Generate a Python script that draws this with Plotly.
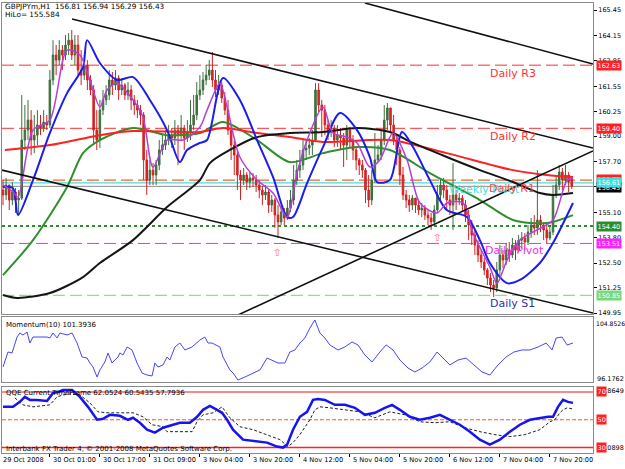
import plotly.graph_objects as go

# ---------------- data ----------------
bar_idx = list(range(183))

opens = [156.24,155.99,156.50,155.73,156.14,155.73,155.83,158.80,159.31,159.82,
         158.80,159.05,159.57,159.41,159.72,159.57,161.87,163.15,162.89,163.40,
         163.15,163.66,163.91,163.15,163.66,162.38,162.12,162.64,161.87,161.36,
         159.31,158.80,160.33,160.85,161.10,161.87,161.61,161.97,161.36,161.61,
         161.10,161.36,160.85,160.59,160.33,160.08,157.78,156.75,157.26,157.01,
         157.52,158.29,158.54,158.80,159.05,158.90,159.31,159.05,159.41,158.90,
         159.21,159.57,160.08,161.10,161.36,161.87,162.12,162.38,161.87,161.36,
         161.61,160.95,160.33,159.31,158.54,158.03,157.01,156.75,157.01,156.65,
         156.86,156.75,156.50,156.24,155.99,156.14,155.47,155.73,154.96,154.61,
         155.12,154.81,155.32,155.73,156.75,157.26,157.52,158.29,158.39,158.54,
         158.80,161.36,160.59,160.33,159.57,159.21,159.41,158.80,159.05,158.90,
         158.54,159.31,158.80,158.29,157.78,157.52,157.26,156.24,155.73,156.75,
         157.78,158.03,158.80,159.82,160.44,159.57,158.80,158.29,157.01,155.99,
         155.73,155.47,155.83,155.47,155.22,155.32,154.96,154.81,154.61,155.22,
         155.99,156.50,156.24,155.73,155.47,155.99,155.73,155.83,155.47,154.96,
         154.45,153.94,153.43,152.92,152.56,152.15,151.74,151.38,151.23,152.15,
         152.92,152.66,153.17,152.92,153.43,153.17,153.68,153.79,153.58,154.09,
         154.45,154.30,154.71,154.45,154.20,153.79,154.09,155.99,156.50,157.16,
         156.75,157.01,156.81]
highs = [156.75,156.86,156.50,156.65,156.34,156.24,161.10,160.59,160.85,160.33,
         160.08,160.33,160.08,160.33,160.08,162.38,163.91,163.66,163.91,163.66,
         164.17,164.27,164.43,164.17,164.17,163.40,163.15,162.89,162.12,161.61,
         160.33,160.85,161.36,161.61,162.38,162.28,162.38,162.12,161.97,161.71,
         161.77,161.61,161.10,160.85,160.59,160.23,158.29,157.78,157.62,157.78,
         158.80,159.05,159.31,159.57,159.41,159.82,159.57,160.08,159.57,159.82,
         160.85,161.10,161.77,162.12,162.28,162.64,162.89,163.30,162.38,162.12,
         161.77,161.25,160.85,159.57,158.80,158.29,157.26,157.37,157.16,157.16,
         157.11,157.01,156.75,156.45,156.50,156.24,155.99,155.83,155.47,155.47,
         155.32,155.73,156.24,157.52,157.78,158.29,158.80,158.80,158.90,159.31,
         161.71,161.71,160.85,160.59,159.82,159.82,159.57,159.57,159.41,159.16,
         159.57,159.46,159.05,158.39,157.88,157.78,157.37,157.01,157.26,159.16,
         158.54,159.31,160.59,160.69,160.44,160.08,159.05,158.44,157.42,156.24,
         155.99,155.99,155.83,155.73,155.58,155.47,155.22,155.07,155.47,156.50,
         156.86,156.86,156.50,155.99,157.62,156.24,156.09,155.99,155.73,155.22,
         154.71,154.20,153.68,153.17,152.76,152.25,152.00,151.64,152.56,153.43,
         153.17,153.53,153.58,153.79,153.68,153.94,154.09,154.04,154.45,154.81,
         154.96,157.26,154.96,154.61,154.45,154.45,156.50,157.01,157.52,157.37,
         157.52,157.16,156.94]
lows = [155.47,155.73,155.22,155.47,155.07,154.96,155.73,158.29,158.80,158.03,
        158.13,158.54,159.05,159.21,159.31,159.41,161.61,162.12,162.64,162.38,
        162.89,163.15,162.89,162.64,162.12,161.61,161.87,161.36,161.10,158.54,
        158.29,158.39,160.08,160.59,160.85,161.10,161.36,160.85,161.10,160.85,
        160.85,160.33,160.08,159.92,159.57,156.75,155.99,156.50,156.50,156.50,
        157.26,158.03,158.29,158.54,158.39,158.54,157.52,158.80,158.29,158.70,
        158.80,159.31,159.82,160.85,161.10,161.61,161.87,161.51,161.00,161.10,
        160.69,160.08,159.05,157.78,157.01,156.24,155.73,156.50,156.24,156.34,
        156.40,156.14,155.83,155.47,155.73,155.07,155.12,154.30,153.79,154.45,
        154.45,154.71,155.12,155.47,156.50,156.86,157.26,157.78,158.03,158.03,
        158.70,160.23,158.95,159.05,158.80,158.95,158.44,158.44,158.29,157.42,
        157.78,158.39,157.78,157.26,157.01,156.86,155.58,155.37,155.47,156.60,
        157.67,157.78,158.54,159.31,159.21,158.54,157.52,156.50,155.73,155.32,
        155.12,155.22,155.07,154.96,154.86,154.71,154.45,154.20,154.45,155.12,
        155.73,155.83,155.22,154.96,154.20,155.22,155.47,155.12,154.61,153.68,
        153.43,152.92,152.56,152.25,151.89,151.38,151.02,150.77,151.02,151.89,
        152.25,152.41,152.56,152.76,152.66,153.07,153.28,153.17,153.43,153.79,
        153.94,153.94,154.09,153.68,153.53,153.68,153.94,155.83,156.24,156.24,
        156.50,156.14,156.29]
closes = [155.99,156.50,155.73,156.14,155.73,155.83,158.80,159.31,159.82,158.80,
          159.05,159.57,159.41,159.72,159.57,161.87,163.15,162.89,163.40,163.15,
          163.66,163.91,163.15,163.66,162.38,162.12,162.64,161.87,161.36,159.31,
          158.80,160.33,160.85,161.10,161.87,161.61,161.97,161.36,161.61,161.10,
          161.36,160.85,160.59,160.33,160.08,157.78,156.75,157.26,157.01,157.52,
          158.29,158.54,158.80,159.05,158.90,159.31,159.05,159.41,158.90,159.21,
          159.57,160.08,161.10,161.36,161.87,162.12,162.38,161.87,161.36,161.61,
          160.95,160.33,159.31,158.54,158.03,157.01,156.75,157.01,156.65,156.86,
          156.75,156.50,156.24,155.99,156.14,155.47,155.73,154.96,154.61,155.12,
          154.81,155.32,155.73,156.75,157.26,157.52,158.29,158.39,158.54,158.80,
          161.36,160.59,160.33,159.57,159.21,159.41,158.80,159.05,158.90,158.54,
          159.31,158.80,158.29,157.78,157.52,157.26,156.24,155.73,156.75,157.78,
          158.03,158.80,159.82,160.44,159.57,158.80,158.29,157.01,155.99,155.73,
          155.47,155.83,155.47,155.22,155.32,154.96,154.81,154.61,155.22,155.99,
          156.50,156.24,155.73,155.47,155.99,155.73,155.83,155.47,154.96,154.45,
          153.94,153.43,152.92,152.56,152.15,151.74,151.38,151.23,152.15,152.92,
          152.66,153.17,152.92,153.43,153.17,153.68,153.79,153.58,154.09,154.45,
          154.30,154.71,154.45,154.20,153.79,154.09,155.99,156.50,157.16,156.75,
          157.01,156.65,156.43]

# moving averages (bar position, price)
blue_x = [0,3.2,4.8,9.6,15,20.5,25.6,26.9,31,36.5,41.6,47,52.5,56.6,58.9,63,65.3,70.4,75.8,81.3,
          86.4,90.9,92.8,97.3,102.4,107.8,113.3,117.4,119.7,123.8,127.7,131.2,136.6,142,148.5,
          152.6,155.8,161.3,165.4,171.8,176,182.4]
blue_y = [156.40,156.34,154.96,156.75,159.16,161.20,162.53,163.91,162.74,161.87,162.02,160.85,159.31,
          157.67,158.29,158.65,158.80,161.97,160.85,158.80,156.91,154.86,154.86,156.60,158.44,160.18,
          159.31,157.93,156.65,156.75,159.21,158.44,156.75,155.22,154.86,153.68,152.51,151.48,151.64,
          152.51,153.53,155.58]
purple_x = [0,3.2,4.8,9.6,15,20.5,24.6,27.8,31,33.3,36.5,41.6,44.8,48,52.5,57.6,63,65.3,69.4,71.7,
            75.8,81.3,86.4,90.9,94.1,97.3,102.4,105.6,110.1,113.3,117.4,120.6,124.8,129.3,133.4,
            138.9,142.1,147.2,150.4,155.8,158.1,161.3,165.4,170.9,176,180.5,182.4]
purple_y = [156.50,156.14,155.88,159.31,159.82,163.40,163.15,161.87,160.49,161.36,161.71,160.85,159.98,
            157.42,158.80,158.80,159.46,160.33,161.71,160.49,157.93,156.75,156.09,154.86,157.11,158.80,
            160.49,159.16,158.95,158.65,157.42,157.78,159.16,157.78,155.58,155.07,155.58,155.58,154.04,
            152.30,151.48,152.66,153.68,154.20,154.71,156.75,156.86]
green_x = [0,9.6,20.5,25.6,31,41.6,52.5,63,70.4,81.3,91.8,102.4,113.3,123.8,136.6,152.6,163.2,174,182.4]
green_y = [151.89,153.68,156.40,158.13,158.80,159.41,159.05,159.16,159.72,158.80,157.67,158.13,158.44,
           158.29,157.11,155.73,154.71,154.55,154.96]
red_x = [0.6,15,31,41.6,63,70.4,81.3,91.8,102.4,123.8,142,163.2,174,182.4]
red_y = [158.29,158.54,159.05,159.26,159.21,159.41,159.16,158.95,158.70,158.80,158.13,157.26,157.01,156.91]
black_x = [0,4.5,15,25.6,31,41.6,52.5,63,66.2,72.6,81.3,91.8,102.4,113.3,123.8,131.2,142,152.6,163.2,
           171.8,176,182.4]
black_y = [150.87,150.72,150.97,151.79,152.51,153.68,155.37,156.75,157.62,158.29,158.95,159.16,159.21,
           159.41,159.21,158.65,157.93,157.26,156.65,156.09,155.99,156.09]

# trendlines: anchor pairs (bar position, price)
trend_lines = [
    ([22.1, 188.8], [164.99, 158.39]),
    ([115.8, 188.8], [165.81, 162.69]),
    ([-0.3, 188.8], [157.26, 149.95]),
    ([75.2, 188.8], [149.85, 158.24]),
]

# horizontal levels
level_vals = [162.63, 159.40, 156.75, 156.61, 156.43, 154.40, 153.51, 150.85]
level_cols = ["#FF2E2E", "#FF2E2E", "#FF5A30", "#3FE0E0", "#8C8C8C", "#2E8B2E", "#FF20FF", "#8EE08E"]
level_dash = ["12px,5px", "12px,5px", "12px,5px", "solid", "solid", "dot", "12px,5px", "12px,5px"]
level_width = [1, 1, 1.2, 1.2, 1, 2, 1, 1.2]

# price axis labels
price_ticks = [165.45, 164.15, 162.85, 161.55, 160.25, 159.00, 157.70, 156.40, 155.10, 153.80, 152.50, 151.25, 149.95]
price_text = ["165.45", "164.15", "162.85", "161.55", "160.25", "159.00", "157.70", "", "155.10", "153.80", "152.50", "151.25", "149.95"]

# time labels
time_ticks = [0, 15, 31, 47, 63, 79, 95, 111, 127, 143, 159, 175]
time_text = ["29 Oct 2008", "30 Oct 01:00", "30 Oct 17:00", "31 Oct 09:00", "3 Nov 04:00", "3 Nov 20:00",
             "4 Nov 12:00", "5 Nov 04:00", "5 Nov 20:00", "6 Nov 12:00", "7 Nov 04:00", "7 Nov 20:00"]

# momentum(10)
mom_x = [0,1.6,2.9,4.5,5.4,6.4,7.7,8.6,9.6,11.8,14.1,15,16,17.3,18.2,20.5,22.1,23.7,25.3,26.9,27.8,28.8,
         30.1,31,32.6,33.6,34.9,35.8,36.8,37.4,38.4,39.7,41.3,42.9,44.5,46.1,47.7,48.6,49.6,51.2,52.5,
         53.4,55,56.6,58.2,60.5,62.1,63,64.6,65.6,66.9,69.4,70.4,72.6,73.6,75.2,77.4,80,82.2,84.5,86.1,
         88,90.2,91.8,93.4,95,96.6,98.2,99.8,101.4,103,104.6,107.2,109.4,111.7,113.6,115.8,118.1,120.6,
         122.6,124.8,127,129.6,131.8,134.1,136.6,138.9,140.8,143,145.6,148.2,150.7,153.3,155.8,158.4,
         161,163.5,166.1,168.6,171.2,173.8,175.7,177,178.9,180.5,182.4]
mom_y = [98.18,100.18,100.05,102.18,102.72,102.45,102.85,101.38,102.18,102.18,102.18,102.05,102.72,
         102.05,102.72,102.45,102.72,101.38,99.51,99.38,98.71,98.18,96.84,97.78,98.85,100.05,98.71,99.11,
         99.51,100.05,99.78,100.85,100.45,98.71,97.38,97.11,96.98,98.71,98.18,98.45,99.51,99.11,100.85,
         101.38,100.45,100.85,101.38,101.78,102.18,101.38,101.38,100.85,99.51,97.78,97.38,96.44,96.84,
         97.38,97.78,99.38,99.11,98.71,98.71,100.18,100.45,101.38,102.05,103.38,104.45,102.72,102.05,
         101.12,100.45,100.85,101.52,101.12,99.78,98.85,100.18,101.12,100.45,99.11,98.04,97.51,98.04,
         98.85,100.18,99.38,98.45,99.11,99.38,98.45,97.51,97.11,98.45,99.51,100.18,100.45,100.45,100.85,
         101.38,100.45,102.05,102.18,101.12,101.38]

# QQE
qqe_fast_x = [0,3.2,5.4,7,8.6,10.9,14.1,16,17.6,19.2,22.1,24.6,27.2,30.1,32,34.2,37.4,40,41.6,43.8,46.1,
              48.6,51.2,53.4,56.6,59.8,62.1,64,66.2,68.5,70.1,71.7,73.6,76.8,80,84.5,87.7,89.6,90.9,92.8,
              95,97.3,99.2,100.8,103,106.2,109.4,112.6,115.8,119,122.2,124.5,127,130.2,133.4,136.6,
              139.8,143,146.2,149.4,152.6,155.8,159,162.2,165.4,168.6,171.8,174.4,176,177.6,179.2,180.8,182.4]
qqe_fast_y = [59.29,59.29,62.86,66.43,64.29,64.29,63.57,69.29,70,71.43,71.43,66.43,59.29,50.0,50.71,53.57,
              52.86,50.0,51.43,47.86,42.86,40.71,44.29,45.71,47.86,47.86,52.14,57.14,60.0,57.14,55.0,50.0,
              42.86,35.71,35.0,33.57,30.71,30.0,32.14,42.86,52.14,55.71,64.29,65.0,64.29,60.71,60.71,
              58.57,53.57,55.0,58.57,60.71,57.14,52.14,50.0,51.43,53.57,50.0,46.43,41.43,35.71,32.14,
              35.71,41.43,46.43,50.0,51.43,52.14,52.14,59.29,64.29,62.86,62.14]
qqe_slow_x = [3.8,6.4,9.6,15,17.3,19.2,21.4,24.6,27.8,30.4,33.3,37.4,41.6,44.8,47.7,51.2,52.5,56.6,60.5,
              62.1,64,67.2,70.1,72.6,75.8,80,84.5,88.6,91.2,92.8,95,98.2,99.8,101.4,104.6,109.4,114.2,
              119,123.8,128.6,133.4,138.2,143,147.8,152.6,157.4,162.2,167,171.8,175,176.6,178.2,179.2,
              180.5,182.4]
qqe_slow_y = [65.71,60.71,59.29,60.71,66.43,67.86,68.57,67.86,62.14,55.71,55.0,55.0,55.0,52.14,46.43,
              45.0,41.43,41.43,41.43,48.57,53.57,55.0,59.29,51.43,45.0,42.86,39.29,35.71,30.71,33.57,
              39.29,50.0,57.14,59.29,58.57,57.14,55.71,51.43,55.71,53.57,48.57,47.86,48.57,44.29,41.43,
              39.29,37.86,39.29,42.86,48.57,50.0,55.0,57.14,58.57,57.79]
qqe_levels = [70, 50, 30]

# ---------------- figure ----------------
FONT = "DejaVu Sans"
fig = go.Figure()

fig.add_trace(go.Candlestick(
    x=bar_idx, open=opens, high=highs, low=lows, close=closes,
    increasing=dict(line=dict(color="#3F6F3F", width=1), fillcolor="#3F6F3F"),
    decreasing=dict(line=dict(color="#D22020", width=1), fillcolor="#E42222"),
    whiskerwidth=0, showlegend=False, hoverinfo="skip", xaxis="x", yaxis="y"))

for xs, ys, col, w in [(green_x, green_y, "#2F8F2F", 2), (red_x, red_y, "#FF2020", 2),
                        (black_x, black_y, "#151515", 2), (blue_x, blue_y, "#1C1CF0", 2),
                        (purple_x, purple_y, "#B040D8", 1.5)]:
    fig.add_trace(go.Scatter(x=xs, y=ys, mode="lines", line=dict(color=col, width=w, shape="spline", smoothing=0.8),
                             showlegend=False, hoverinfo="skip", xaxis="x", yaxis="y"))

for tx, ty in trend_lines:
    fig.add_trace(go.Scatter(x=tx, y=ty, mode="lines", line=dict(color="#101010", width=1.6),
                             showlegend=False, hoverinfo="skip", xaxis="x", yaxis="y"))

fig.add_trace(go.Scatter(x=mom_x, y=mom_y, mode="lines", line=dict(color="#4646F5", width=1),
                         showlegend=False, hoverinfo="skip", xaxis="x2", yaxis="y2"))

fig.add_trace(go.Scatter(x=qqe_slow_x, y=qqe_slow_y, mode="lines", line=dict(color="#202020", width=1, dash="3px,2px"),
                         showlegend=False, hoverinfo="skip", xaxis="x3", yaxis="y3"))
fig.add_trace(go.Scatter(x=qqe_fast_x, y=qqe_fast_y, mode="lines", line=dict(color="#1515F0", width=2.5),
                         showlegend=False, hoverinfo="skip", xaxis="x3", yaxis="y3"))

shapes = []
for v, c, d, w in zip(level_vals, level_cols, level_dash, level_width):
    shapes.append(dict(type="line", xref="paper", x0=0, x1=1, yref="y", y0=v, y1=v,
                       line=dict(color=c, width=w, dash=d), layer="below"))
for v, c, d, w in zip(qqe_levels, ["#F58A8A", "#FF5020", "#FF2020"], ["solid", "4px,2px", "solid"], [2, 1, 1.5]):
    shapes.append(dict(type="line", xref="paper", x0=0, x1=1, yref="y3", y0=v, y1=v,
                       line=dict(color=c, width=w, dash=d), layer="below"))

ann = []
def txt(x, y, s, color="#000000", size=7, xref="paper", yref="paper", xanchor="left", **kw):
    ann.append(dict(x=x, y=y, xref=xref, yref=yref, text=s, showarrow=False, xanchor=xanchor,
                    yanchor="middle", font=dict(family=FONT, size=size, color=color), **kw))

def px(X):
    return (X - 2) / 591.0
def py(Y):
    return (453 - Y) / 450.0

txt(px(3), py(6), "GBPJPYm,H1  156.81 156.94 156.29 156.43", size=7.3)
txt(px(3), py(15), "HiLo= 155.584", size=7.3)
txt(px(4), py(325), "Momentum(10) 101.3936")
txt(px(4), py(393), "QQE Current TimeFrame 62.0524 60.5435 57.7936")
txt(px(4), py(449), "Interbank FX Trader 4, © 2001-2008 MetaQuotes Software Corp.")

# level text labels in the chart
txt(155.3, 162.63 - 0.42, "Daily R3", color="#FF3030", size=11, xref="x", yref="y")
txt(155.3, 159.40 - 0.42, "Daily R2", color="#FF3030", size=11, xref="x", yref="y")
txt(142.2, 156.61 - 0.33, "Weekly Pivot", color="#40E0E0", size=11, xref="x", yref="y")
txt(155.0, 156.75 - 0.45, "Daily R1", color="#FF4A4A", size=11, xref="x", yref="y")
txt(153.6, 153.51 - 0.38, "Daily Pivot", color="#F030F0", size=11, xref="x", yref="y")
txt(155.3, 150.85 - 0.4, "Daily S1", color="#3030B0", size=11, xref="x", yref="y")

# fractal arrows
for ax_, ay_ in [(87.7, 153.07), (138.9, 153.79)]:
    txt(ax_, ay_, "⇧", color="#FF6A6A", size=10, xref="x", yref="y", xanchor="center")

# right-side price boxes
def box(y, s, bg, yref="y", fg="#FFFFFF"):
    ann.append(dict(x=1, y=y, xref="paper", yref=yref, text=s, showarrow=False, xanchor="left", yanchor="middle",
                    xshift=3, bgcolor=bg, borderpad=0.5, font=dict(family=FONT, size=6.5, color=fg)))

box(162.63, "162.63", "#FF2020")
box(159.40, "159.40", "#FF2020")
box(156.80, "156.75", "#FF2020")
box(156.36, "156.43", "#000000")
box(156.61, "156.61", "#3FE0E0")
box(154.40, "154.40", "#2E8B2E")
box(153.51, "153.51", "#FF20FF")
box(150.85, "150.85", "#7CD67C")

# indicator window scale labels
txt(px(594), py(323), "104.8526", size=6.1)
txt(px(595), py(379), "96.1762", size=6.5)
txt(px(595), py(391), "73.8649", size=6.5)
txt(px(595), py(448), "26.0898", size=6.5)
box(70, "70", "#FF2020", yref="y3")
box(50, "50", "#FF2020", yref="y3")
box(30, "30", "#FF2020", yref="y3")

# time labels
for t, s in zip(time_ticks, time_text):
    ann.append(dict(x=t, y=py(460), xref="x3", yref="paper", text=s, showarrow=False, xanchor="left",
                    yanchor="middle", xshift=1 if t else -2, font=dict(family=FONT, size=6.6, color="#000000")))

XR = [-0.32, 188.8]
axis_common = dict(showgrid=False, zeroline=False, showline=True, mirror=True, linecolor="#8A8A8A", linewidth=1)

fig.update_layout(
    width=625, height=469, margin=dict(l=2, r=32, t=3, b=16),
    paper_bgcolor="#FFFFFF", plot_bgcolor="#FFFFFF",
    showlegend=False, shapes=shapes, annotations=ann,
    xaxis=dict(domain=[0, 1], anchor="y", range=XR, rangeslider=dict(visible=False),
               showticklabels=False, **axis_common),
    xaxis2=dict(domain=[0, 1], anchor="y2", range=XR, matches="x", showticklabels=False, **axis_common),
    xaxis3=dict(domain=[0, 1], anchor="y3", range=XR, matches="x", showticklabels=False,
                ticks="outside", ticklen=3, tickcolor="#000000", tickvals=time_ticks[1:], **axis_common),
    yaxis=dict(domain=[0.3089, 1], anchor="x", side="right", range=[149.90, 165.81],
               tickvals=price_ticks, ticktext=price_text, ticks="outside", ticklen=3, tickcolor="#000000",
               tickfont=dict(family=FONT, size=6.5, color="#000000"), **axis_common),
    yaxis2=dict(domain=[0.1578, 0.3022], anchor="x2", side="right", range=[96.1762, 104.8526],
                showticklabels=False, **axis_common),
    yaxis3=dict(domain=[0, 0.1476], anchor="x3", side="right", range=[26.0898, 73.8649],
                showticklabels=False, **axis_common),
)

fig.write_html("out.html")
